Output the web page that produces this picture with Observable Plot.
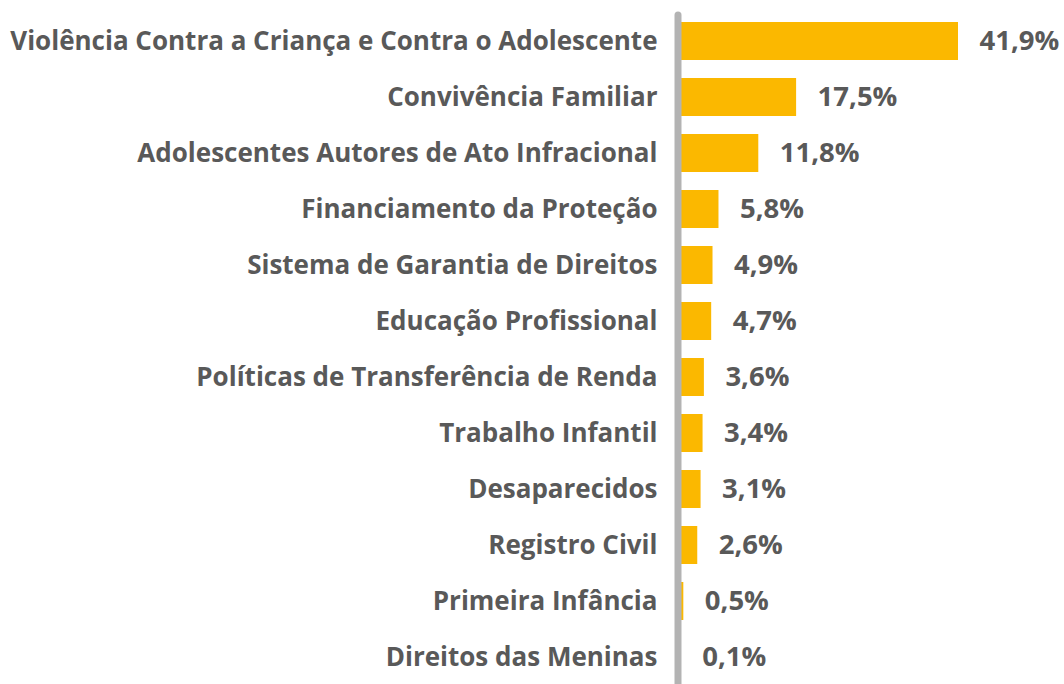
<!DOCTYPE html>
<html><head><meta charset="utf-8">
<script src="https://cdn.jsdelivr.net/npm/d3@7"></script>
<script src="https://cdn.jsdelivr.net/npm/@observablehq/plot@0.6"></script>
<style>body{margin:0;background:#fff}</style>
</head><body><div id="chart"></div>
<script>
const categories = [
  "Violência Contra a Criança e Contra o Adolescente",
  "Convivência Familiar",
  "Adolescentes Autores de Ato Infracional",
  "Financiamento da Proteção",
  "Sistema de Garantia de Direitos",
  "Educação Profissional",
  "Políticas de Transferência de Renda",
  "Trabalho Infantil",
  "Desaparecidos",
  "Registro Civil",
  "Primeira Infância",
  "Direitos das Meninas"
];
const values = [41.9, 17.5, 11.8, 5.8, 4.9, 4.7, 3.6, 3.4, 3.1, 2.6, 0.5, 0.1];
const data = categories.map((c, i) => ({category: c, value: values[i]}));
const fmt = v => v.toFixed(1).replace(".", ",") + "%";
const font = "'Open Sans', sans-serif";
const grey = "#595959";

const chart = Plot.plot({
  width: 1064,
  height: 684,
  marginLeft: 680,
  marginRight: 106,
  marginTop: 20,
  marginBottom: 6,
  style: {fontFamily: font, background: "#fff"},
  x: {domain: [0, 41.9], axis: null},
  y: {domain: categories, paddingInner: 0.33, paddingOuter: 0, axis: null},
  marks: [
    Plot.barX(data, {y: "category", x: "value", fill: "#FBB800"}),
    Plot.ruleX([0], {stroke: "#b3b3b3", strokeWidth: 7, dx: -2.5, insetTop: -5, insetBottom: -10, strokeLinecap: "round"}),
    Plot.text(data, {y: "category", x: 0, text: "category", textAnchor: "end", dx: -23, fill: grey, fontSize: 26, fontWeight: "bold", fontFamily: font}),
    Plot.text(data, {y: "category", x: "value", text: d => fmt(d.value), textAnchor: "start", dx: 21, fill: grey, fontSize: 27.5, fontWeight: "bold", fontFamily: font})
  ]
});
document.getElementById("chart").append(chart);
</script></body></html>
